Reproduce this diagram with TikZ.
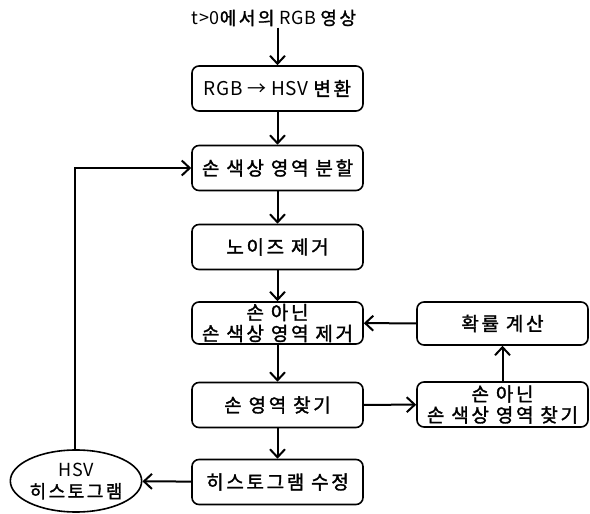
\documentclass[tikz,border=0pt]{standalone}
\usepackage{fontspec}
\setmainfont{Noto Sans CJK KR}[LetterSpace=3]
\newfontfamily\kb{Noto Sans CJK KR}[LetterSpace=14,FakeBold=1.6]
\usetikzlibrary{arrows.meta,shapes.geometric}
\tikzset{
  box/.style={draw, line width=1.6pt, rounded corners=7pt, minimum width=171pt, minimum height=45pt, align=center, inner sep=1pt, font=\fontsize{19}{21}\selectfont},
  oval/.style={draw, ellipse, line width=1.6pt, minimum width=122pt, minimum height=62pt, align=center, inner sep=0pt, font=\fontsize{18}{22}\selectfont},
  conn/.style={line width=2pt, -{Straight Barb[length=8pt,width=15pt,line width=2pt]}},
}
\begin{document}
\begin{tikzpicture}[x=1pt,y=-1pt]
\useasboundingbox (0,0) rectangle (590,514);
\node[font=\fontsize{18}{20}\selectfont] (title) at (274,18) {t>0{\kb 에서의} RGB {\kb 영상}};
\node[box] (b1) at (277.5,88.5) {RGB → HSV {\kb 변환}};
\node[box] (b2) at (277.5,168) {\kb 손 색상 영역 분할};
\node[box] (b3) at (277.5,247) {\kb 노이즈 제거};
\node[box, minimum height=42pt] (b4) at (277.5,323) {\kb 손 아닌\\\kb 손 색상 영역 제거};
\node[box] (b5) at (277.5,405) {\kb 손 영역 찾기};
\node[box] (b8) at (277.5,482) {\kb 히스토그램 수정};
\node[box, minimum height=43pt] (b6) at (502.5,323.5) {\kb 확률 계산};
\node[box] (b7) at (502.5,404.5) {\kb 손 아닌\\\kb 손 색상 영역 찾기};
\node[oval] (hist) at (76,481) {HSV\\\kb 히스토그램};
\coordinate (corner) at (75,168);
\draw[conn] (title.south -| b1.north) ++(0,-2) -- (b1.north);
\draw[conn] (b1) -- (b2);
\draw[conn] (b2) -- (b3);
\draw[conn] (b3) -- (b4);
\draw[conn] (b4) -- (b5);
\draw[conn] (b5) -- (b8);
\draw[conn] (b5) -- (b7);
\draw[conn] (b7) -- (b6);
\draw[conn] (b6) -- (b4);
\draw[conn] (b8) -- (hist);
\draw[conn] (hist.north -| corner) -- (corner) -- (b2.west);
\end{tikzpicture}
\end{document}
